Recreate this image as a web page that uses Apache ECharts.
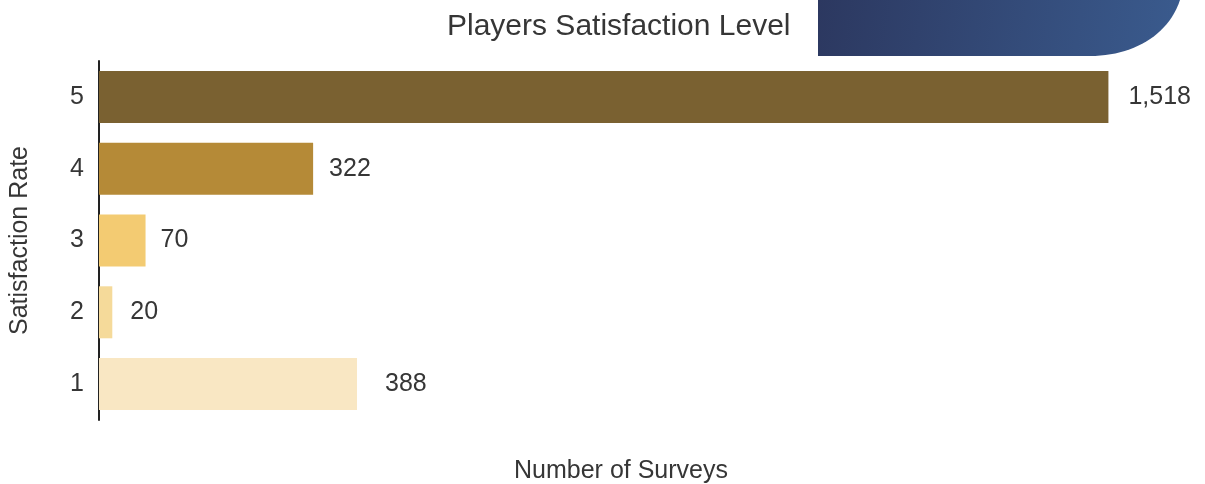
<!DOCTYPE html>
<html>
<head>
<meta charset="utf-8">
<script src="https://cdn.jsdelivr.net/npm/echarts@6/dist/echarts.min.js"></script>
<style>
  html, body { margin: 0; padding: 0; background: #ffffff; }
  #chart { width: 1205px; height: 484px; }
</style>
</head>
<body>
<div id="chart"></div>
<script>
// Satisfaction rates (bottom to top) and the number of surveys for each
const rates = ['1', '2', '3', '4', '5'];
const surveys = [388, 20, 70, 322, 1518];

// Bar fill per rate, light to dark
const barColors = ['#f9e7c3', '#f5da9a', '#f3cb72', '#b58a37', '#7a6131'];
// Gap between bar end and its value label
const labelGaps = [28, 18, 15, 16, 20];

const FONT = '"Liberation Sans", Helvetica, Arial, sans-serif';
const TEXT = '#363636';

// Outline of the banner in the top right corner: straight edges plus a
// rounded lower-right corner sampled from a cubic curve
function bannerPoints() {
  const pts = [[818, 0], [1180, 0]];
  const p0 = [1180, 0], c1 = [1168, 36], c2 = [1132, 56], p3 = [1090, 56];
  for (let i = 1; i <= 24; i++) {
    const t = i / 24, u = 1 - t;
    pts.push([
      u * u * u * p0[0] + 3 * u * u * t * c1[0] + 3 * u * t * t * c2[0] + t * t * t * p3[0],
      u * u * u * p0[1] + 3 * u * u * t * c1[1] + 3 * u * t * t * c2[1] + t * t * t * p3[1]
    ]);
  }
  pts.push([818, 56]);
  return pts;
}

const chart = echarts.init(document.getElementById('chart'), null, { renderer: 'canvas' });

const option = {
  backgroundColor: '#ffffff',
  animation: false,
  graphic: [
    {
      type: 'polygon',
      z: 0,
      shape: { points: bannerPoints() },
      style: {
        fill: {
          type: 'linear', x: 0, y: 0, x2: 1, y2: 1,
          colorStops: [
            { offset: 0, color: '#2c3860' },
            { offset: 1, color: '#3a5b8e' }
          ]
        }
      }
    }
  ],
  title: {
    text: 'Players Satisfaction Level',
    left: 447,
    top: 12,
    padding: 0,
    textStyle: { fontFamily: FONT, fontSize: 30, fontWeight: 'normal', color: TEXT }
  },
  grid: { left: 99, right: 62, top: 61, bottom: 64, outerBoundsMode: 'none' },
  xAxis: {
    type: 'value',
    min: 0,
    max: 1570,
    name: 'Number of Surveys',
    nameLocation: 'middle',
    nameGap: 39,
    nameTextStyle: { fontFamily: FONT, fontSize: 25, color: TEXT },
    axisLine: { show: false },
    axisTick: { show: false },
    axisLabel: { show: false },
    splitLine: { show: false }
  },
  yAxis: {
    type: 'category',
    data: rates,
    name: 'Satisfaction Rate',
    nameLocation: 'middle',
    nameGap: 66,
    nameTextStyle: { fontFamily: FONT, fontSize: 25, color: TEXT },
    axisLine: { show: true, lineStyle: { color: '#222222', width: 2 } },
    axisTick: { show: false },
    axisLabel: { margin: 15, fontFamily: FONT, fontSize: 25, color: TEXT },
    splitLine: { show: false }
  },
  series: [
    {
      type: 'bar',
      barWidth: 52,
      data: surveys.map((v, i) => ({
        value: v,
        itemStyle: { color: barColors[i] },
        label: { distance: labelGaps[i] }
      })),
      label: {
        show: true,
        position: 'right',
        fontFamily: FONT,
        fontSize: 25,
        color: TEXT,
        formatter: p => Number(p.value).toLocaleString('en-US')
      }
    }
  ]
};

chart.setOption(option);
</script>
</body>
</html>
